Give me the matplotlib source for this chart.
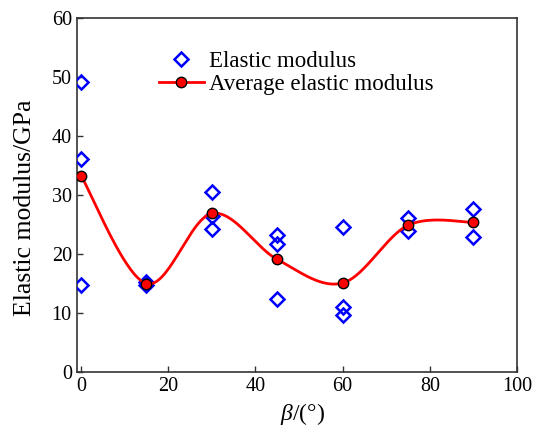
import numpy as np
import matplotlib
matplotlib.use("Agg")
import matplotlib.pyplot as plt

plt.rcParams['font.family'] = ['Liberation Serif', 'DejaVu Serif']
plt.rcParams['mathtext.fontset'] = 'custom'
plt.rcParams['mathtext.it'] = 'Liberation Serif:italic'
plt.rcParams['mathtext.rm'] = 'Liberation Serif'

# individual measurements
beta_pts = [0, 0, 0, 15, 15, 30, 30, 30, 45, 45, 45, 60, 60, 60, 75, 75, 90, 90]
modulus_pts = [49.2, 36.1, 14.7, 14.8, 15.3, 30.6, 26.4, 24.2,
               23.3, 21.8, 12.3, 24.6, 11.0, 9.7, 26.1, 23.9, 27.6, 22.9]

# averages
beta_avg = [0, 15, 30, 45, 60, 75, 90]
modulus_avg = [33.3, 15.0, 26.9, 19.1, 15.1, 24.9, 25.4]


def smooth_bezier(x, y, npts=60):
    """Catmull-Rom style smoothed line (as in spreadsheet 'smoothed line')."""
    P = np.column_stack([x, y]).astype(float)
    n = len(P)
    Pe = np.vstack([P[0], P, P[-1]])
    t = np.linspace(0, 1, npts)[:, None]
    out = []
    for i in range(n - 1):
        p0 = Pe[i + 1]; p3 = Pe[i + 2]
        c1 = p0 + (Pe[i + 2] - Pe[i]) / 6.0
        c2 = p3 - (Pe[i + 3] - Pe[i + 1]) / 6.0
        seg = ((1 - t) ** 3) * p0 + 3 * ((1 - t) ** 2) * t * c1 + 3 * (1 - t) * t ** 2 * c2 + t ** 3 * p3
        out.append(seg if i == 0 else seg[1:])
    out = np.vstack(out)
    return out[:, 0], out[:, 1]


fig = plt.figure(figsize=(5.42, 4.30), dpi=100)
ax = fig.add_axes([0.1415, 0.135, 0.8125, 0.822])

xs, ys = smooth_bezier(beta_avg, modulus_avg)

ax.plot(beta_pts, modulus_pts, linestyle='none', marker='D', markersize=7,
        markerfacecolor='none', markeredgecolor='#0000ff', markeredgewidth=1.8,
        label='Elastic modulus', zorder=3)
ax.plot(xs, ys, color='#ff0000', lw=2, zorder=4)
ax.plot(beta_avg, modulus_avg, linestyle='none', marker='o', markersize=7.5,
        markerfacecolor='#ff0000', markeredgecolor='black', markeredgewidth=1.0, zorder=5)
# legend proxy
ax.plot([], [], color='#ff0000', lw=2, marker='o', markersize=7.5,
        markerfacecolor='#ff0000', markeredgecolor='black', markeredgewidth=1.0,
        label='Average elastic modulus')

ax.set_xlim(-1, 100)
ax.set_ylim(0, 60)
ax.set_xticks([0, 20, 40, 60, 80, 100])
ax.set_yticks([0, 10, 20, 30, 40, 50, 60])
ax.tick_params(direction='in', labelsize=14.5, length=4, width=1, colors='#333333', labelcolor='black')
for s in ax.spines.values():
    s.set_color('#333333'); s.set_linewidth(1.2)

ax.set_xlabel(r'$\mathit{\beta}$/(°)', fontsize=17)
ax.xaxis.set_label_coords(0.512, -0.082)
ax.set_ylabel('Elastic modulus/GPa', fontsize=18.5)
ax.yaxis.set_label_coords(-0.092, 0.465)

ax.legend(loc='upper left', bbox_to_anchor=(0.165, 0.935), frameon=False, fontsize=16.5,
          handlelength=2.0, handletextpad=0.2, labelspacing=0.12, borderaxespad=0)

fig.savefig('out.png', dpi=100)
